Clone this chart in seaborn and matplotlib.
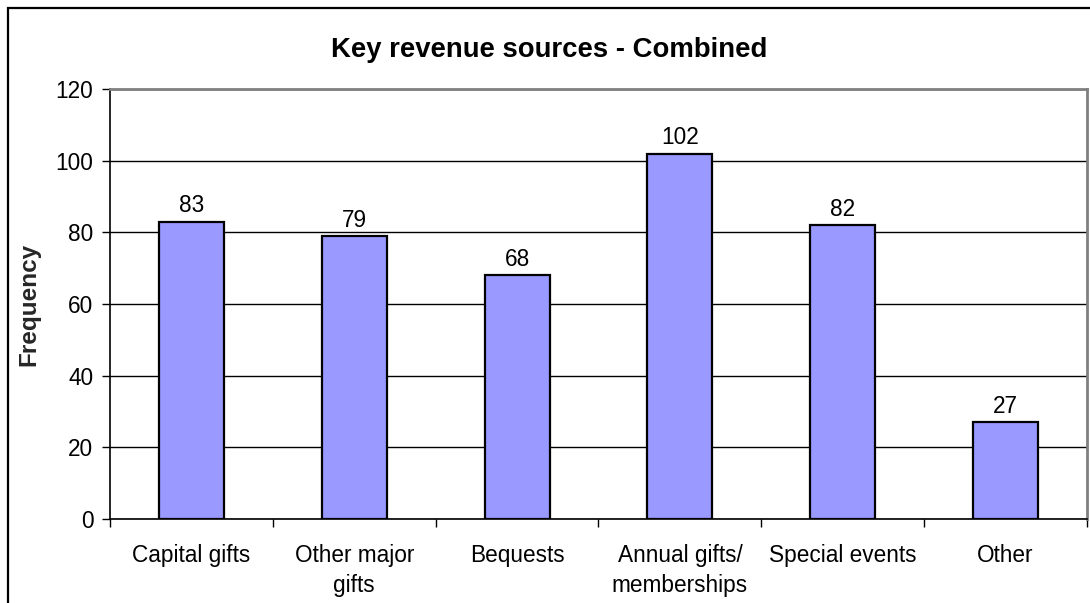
import matplotlib
matplotlib.use("Agg")
import matplotlib.pyplot as plt
from matplotlib.patches import Rectangle
from matplotlib.ticker import MultipleLocator, FixedLocator
import seaborn as sns
import pandas as pd

categories = ["Capital gifts", "Other major\ngifts", "Bequests",
              "Annual gifts/\nmemberships", "Special events", "Other"]
frequency = [83, 79, 68, 102, 82, 27]

title = "Key revenue sources - Combined"
y_label = "Frequency"

sns.set_theme(style="white")
plt.rcParams["font.family"] = ["Liberation Sans", "DejaVu Sans"]

df = pd.DataFrame({"source": categories, "freq": frequency})

fig = plt.figure(figsize=(10.9, 6.03), dpi=100)
ax = fig.add_axes([110 / 1090, 1 - 519 / 603, (1087 - 110) / 1090, (519 - 89) / 603])

sns.barplot(data=df, x="source", y="freq", color="#9999FF", saturation=1,
            width=0.4, edgecolor="black", linewidth=1.6, ax=ax, zorder=3)

ax.set_ylim(0, 120)
ax.set_xlim(-0.5, len(categories) - 0.5)
ax.yaxis.set_major_locator(MultipleLocator(20))
ax.grid(axis="y", color="black", linewidth=1.0, zorder=0)
ax.set_axisbelow(True)

# category labels centred, tick marks at the category boundaries
ax.xaxis.set_minor_locator(FixedLocator([i - 0.5 for i in range(len(categories) + 1)]))
ax.tick_params(axis="x", which="major", length=0, pad=18, labelsize=16.3, colors="black")
ax.tick_params(axis="x", which="minor", length=6, width=1.0, color="black", bottom=True)
ax.tick_params(axis="y", which="major", length=6, width=1.0, color="black", left=True,
               labelsize=16.3, pad=6, labelcolor="black")
for lbl in ax.get_xticklabels():
    lbl.set_linespacing(1.4)

for side in ["left", "bottom"]:
    ax.spines[side].set_color("black")
    ax.spines[side].set_linewidth(1.2)
for side in ["top", "right"]:
    ax.spines[side].set_visible(True)
    ax.spines[side].set_color("#808080")
    ax.spines[side].set_linewidth(2.0)

ax.set_xlabel("")
ax.set_ylabel(y_label, fontsize=17.5, fontweight="bold", labelpad=11)

for container in ax.containers:
    ax.bar_label(container, labels=[str(v) for v in frequency], padding=3,
                 fontsize=16.3, color="black")

fig.text(549 / 1090, 1 - 50 / 603, title, ha="center", va="center",
         fontsize=19.8, fontweight="bold", color="black")

# outer chart frame
fig.patches.append(Rectangle((8 / 1090, -0.1), 1.2, 1 - 8 / 603 + 0.1,
                             transform=fig.transFigure, fill=False,
                             edgecolor="black", linewidth=1.6, clip_on=False))

fig.savefig("out.png", dpi=100, facecolor="white")
